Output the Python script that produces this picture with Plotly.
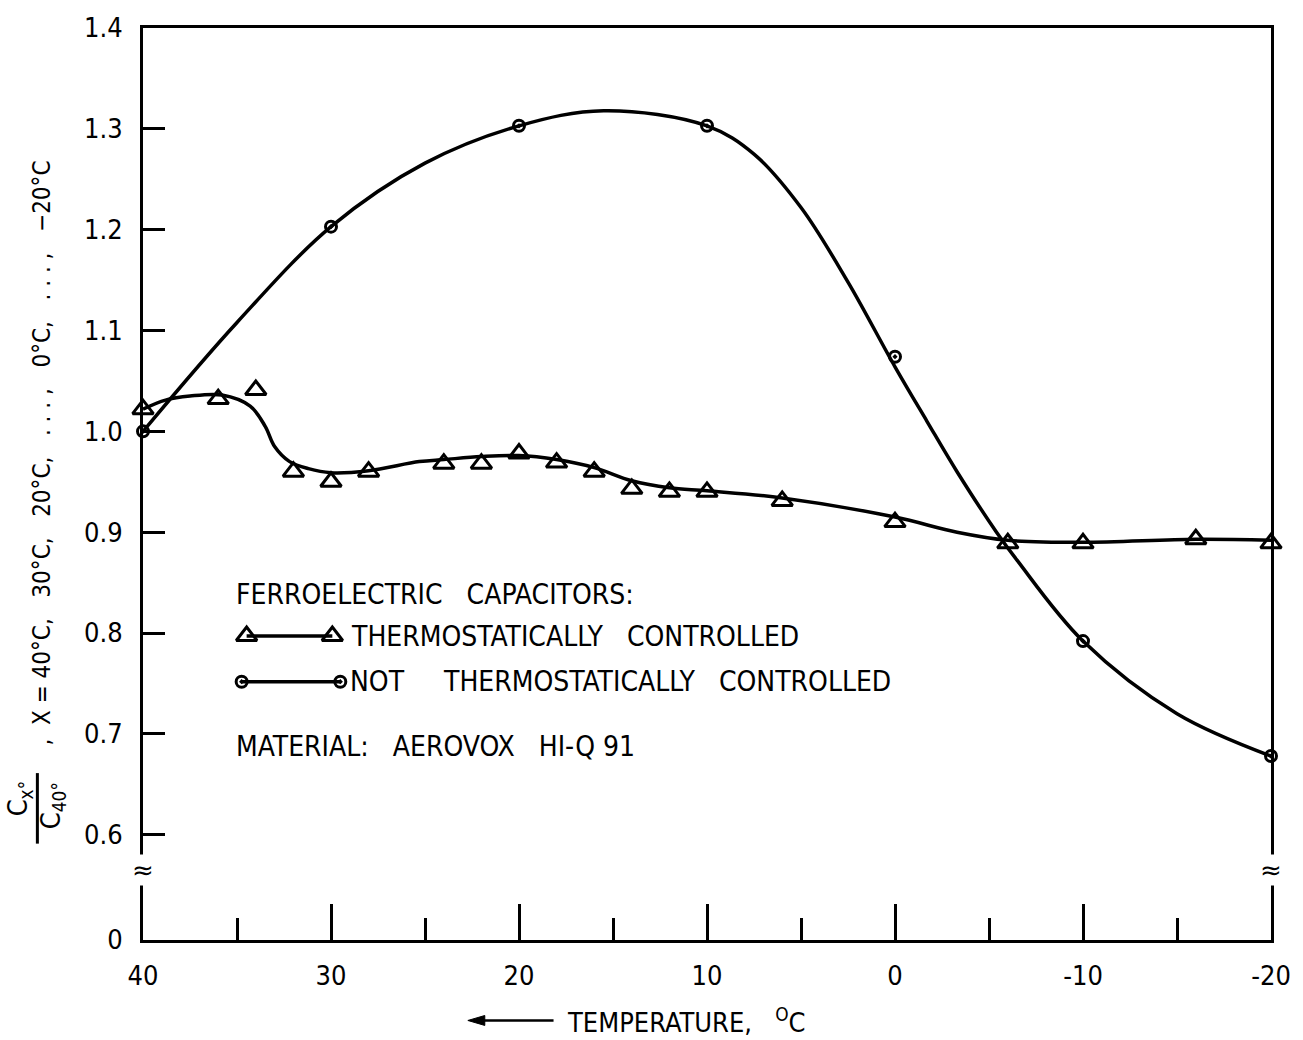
import plotly.graph_objects as go

# ---------------- data ----------------
temps_thermo = [40, 36, 34, 32, 30, 28, 24, 22, 20, 18, 16, 14, 12, 10, 6, 0, -6, -10, -16, -20]
ratio_thermo = [1.022, 1.032, 1.041, 0.960, 0.950, 0.960, 0.968, 0.968, 0.978, 0.969, 0.960,
                0.943, 0.940, 0.940, 0.931, 0.910, 0.889, 0.889, 0.893, 0.889]

temps_not = [40, 30, 20, 10, 0, -10, -20]
ratio_not = [1.0, 1.203, 1.303, 1.303, 1.074, 0.792, 0.678]

# hand-drawn fitted curves
fit_thermo_t = [40, 38.8, 37.5, 35.8, 34.3, 33.5, 33.0, 32.2, 31.2, 30, 28, 25.3, 24, 22, 20,
                18, 16, 14, 12, 10, 6, 0, -3.3, -6, -10, -16, -20]
fit_thermo_r = [1.022, 1.031, 1.035, 1.036, 1.025, 1.005, 0.985, 0.970, 0.963, 0.959, 0.961,
                0.970, 0.972, 0.975, 0.976, 0.972, 0.964, 0.951, 0.944, 0.941, 0.934, 0.915,
                0.900, 0.892, 0.890, 0.893, 0.892]

fit_not_t = [40, 35, 30, 25, 20, 15.5, 10, 7.5, 5, 2.5, 0, -1.7, -3.3, -5.4, -6.5, -10, -15, -20]
fit_not_r = [1.0, 1.108, 1.203, 1.266, 1.303, 1.318, 1.303, 1.275, 1.222, 1.148, 1.064, 1.01,
             0.96, 0.90, 0.872, 0.792, 0.72, 0.678]

x_tickvals = [40, 30, 20, 10, 0, -10, -20]
x_ticktext = ["40", "30", "20", "10", "0", "-10", "-20"]
x_minor = [35, 25, 15, 5, -5, -15]
y_zero_pos = 0.4956  # broken axis: "0" drawn just below 0.6
y_tickvals = [y_zero_pos, 0.6, 0.7, 0.8, 0.9, 1.0, 1.1, 1.2, 1.3, 1.4]
y_ticktext = ["0", "0.6", "0.7", "0.8", "0.9", "1.0", "1.1", "1.2", "1.3", "1.4"]

# ---------------- layout helpers ----------------
W, H = 1303, 1040
L, R, T, B = 143, 1275, 22, 940
FONT = "DejaVu Sans Condensed, Liberation Sans Narrow, Arial Narrow, sans-serif"
NB = "\u00a0"


def px(x):
    return (x - L) / (R - L)


def py(y):
    return (B - y) / (B - T)


fig = go.Figure()

# fitted curves
fig.add_trace(go.Scatter(x=fit_thermo_t, y=fit_thermo_r, mode="lines",
                         line=dict(color="black", width=3.5, shape="spline", smoothing=1.0),
                         cliponaxis=False, showlegend=False, hoverinfo="skip"))
fig.add_trace(go.Scatter(x=fit_not_t, y=fit_not_r, mode="lines",
                         line=dict(color="black", width=3.5, shape="spline", smoothing=1.0),
                         cliponaxis=False, showlegend=False, hoverinfo="skip"))
# data points
fig.add_trace(go.Scatter(x=temps_thermo, y=ratio_thermo, mode="markers",
                         marker=dict(symbol="triangle-up-open", size=18, color="black",
                                     line=dict(width=3, color="black")),
                         cliponaxis=False, showlegend=False))
fig.add_trace(go.Scatter(x=temps_not, y=ratio_not, mode="markers",
                         marker=dict(symbol="circle-open-dot", size=11, color="black",
                                     line=dict(width=3, color="black")),
                         cliponaxis=False, showlegend=False))

# legend samples on a pixel-space overlay axis
fig.add_trace(go.Scatter(x=[247, 333], y=[634, 634], xaxis="x2", yaxis="y2", mode="lines+markers",
                         line=dict(color="black", width=3.5),
                         marker=dict(symbol="triangle-up-open", size=18, color="black",
                                     line=dict(width=3, color="black")),
                         cliponaxis=False, showlegend=False, hoverinfo="skip"))
fig.add_trace(go.Scatter(x=[242, 341], y=[680, 680], xaxis="x2", yaxis="y2", mode="lines+markers",
                         line=dict(color="black", width=3.5),
                         marker=dict(symbol="circle-open-dot", size=11, color="black",
                                     line=dict(width=3, color="black")),
                         cliponaxis=False, showlegend=False, hoverinfo="skip"))

annotations = []


def text(x, y, s, size=28, xanchor="left", angle=0, yanchor="middle"):
    annotations.append(dict(x=px(x), y=py(y), xref="paper", yref="paper", text=s,
                            showarrow=False, xanchor=xanchor, yanchor=yanchor,
                            textangle=angle, font=dict(family=FONT, size=size, color="black")))


sp2 = NB * 3
text(234, 592, "FERROELECTRIC" + sp2 + "CAPACITORS:")
text(350, 635, "THERMOSTATICALLY" + sp2 + "CONTROLLED")
text(349, 680, "NOT" + sp2 + NB * 2 + "THERMOSTATICALLY" + sp2 + "CONTROLLED")
text(234, 745, "MATERIAL:" + sp2 + "AEROVOX" + sp2 + "HI-Q" + NB + "91")

# x-axis title with arrow
text(566, 1021, "TEMPERATURE," + NB * 3 + "<sup>O</sup>C", size=27)

# y-axis title (rotated)
text(20, 797, "C<sub>x°</sub>", size=27, xanchor="center", angle=-90)
text(53, 805, "C<sub>40°</sub>", size=27, xanchor="center", angle=-90)
text(42, 450, ",  X = 40°C," + sp2 + "30°C," + sp2 + "20°C," + sp2 + ". . . ," + sp2 + "0°C,"
     + sp2 + ". . . ," + sp2 + "−20°C", size=24, xanchor="center", angle=-90)

# axis break marks
for xb in (L, R):
    annotations.append(dict(x=px(xb), y=py(870), xref="paper", yref="paper", text="≈",
                            showarrow=False, xanchor="center", yanchor="middle",
                            bgcolor="white", borderpad=0,
                            font=dict(family="DejaVu Sans", size=26, color="black")))

ay = py(1021)
shapes = [
    dict(type="line", xref="paper", yref="paper", x0=px(37), x1=px(37),
         y0=py(772), y1=py(843), line=dict(color="black", width=3)),
    # arrow of x-axis title
    dict(type="line", xref="paper", yref="paper", x0=px(480), x1=px(555), y0=ay, y1=ay,
         line=dict(color="black", width=2.5)),
    dict(type="path", xref="paper", yref="paper",
         path=f"M {px(469)} {ay} L {px(486)} {py(1016)} L {px(486)} {py(1026)} Z",
         fillcolor="black", line=dict(color="black", width=1)),
]

fig.update_layout(
    width=W, height=H,
    margin=dict(l=L, r=W - R, t=T, b=H - B),
    paper_bgcolor="white", plot_bgcolor="white",
    showlegend=False,
    annotations=annotations, shapes=shapes,
    xaxis=dict(range=[40, -20], showline=True, linewidth=3, linecolor="black", mirror=True,
               showgrid=False, zeroline=False, ticks="inside", tickvals=x_tickvals,
               ticktext=x_ticktext, ticklen=36, tickwidth=3, tickcolor="black",
               ticklabelstandoff=10,
               minor=dict(tickvals=x_minor, ticks="inside", ticklen=22, tickwidth=3,
                          tickcolor="black", showgrid=False),
               tickfont=dict(family=FONT, size=27, color="black")),
    yaxis=dict(range=[y_zero_pos, 1.4], showline=True, linewidth=3, linecolor="black",
               mirror=True, showgrid=False, zeroline=False, ticks="inside",
               tickvals=y_tickvals, ticktext=y_ticktext, ticklen=22, tickwidth=3,
               tickcolor="black", ticklabelstandoff=12,
               tickfont=dict(family=FONT, size=27, color="black")),
    xaxis2=dict(range=[L, R], overlaying="x", visible=False, fixedrange=True),
    yaxis2=dict(range=[B, T], overlaying="y", visible=False, fixedrange=True),
)

fig.write_html("out.html")
